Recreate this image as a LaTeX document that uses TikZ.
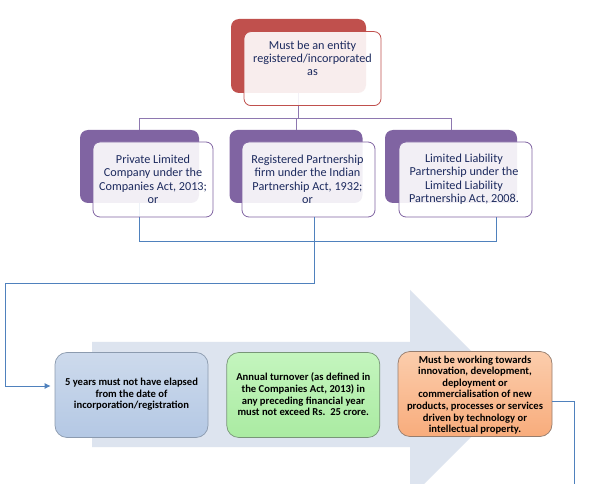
\documentclass[tikz,border=0pt]{standalone}
\usepackage{fontspec}
\setmainfont{Carlito}
\usetikzlibrary{arrows.meta}
\definecolor{redback}{HTML}{C0504D}
\definecolor{purpback}{HTML}{8064A2}
\definecolor{purpline}{HTML}{8E78B0}
\definecolor{blueline}{HTML}{4F81BD}
\definecolor{navytext}{HTML}{1C2A5E}
\definecolor{arrowfill}{HTML}{DDE4EF}
\tikzset{
  backbox/.style={rounded corners=8pt, minimum width=#1, inner sep=0pt},
  frontbox/.style={rounded corners=7pt, fill=white, fill opacity=0.9, line width=0.8pt, inner sep=0pt},
  toptext/.style={text=navytext, align=center, font=\fontsize{12.2}{13.3}\selectfont, inner sep=0pt},
  lowbox/.style={rounded corners=12pt, minimum width=153pt, minimum height=85pt, line width=0.7pt, inner sep=0pt},
  lowtext/.style={text=black, align=center, font=\bfseries\fontsize{10.6}{11.6}\selectfont, inner sep=0pt},
  purpconn/.style={draw=purpline, line width=0.8pt},
  blueconn/.style={draw=blueline, line width=0.8pt},
}
\begin{document}
\begin{tikzpicture}[x=1pt,y=-1pt]
\fill[white] (0,0) rectangle (590,484);
\useasboundingbox (0,0) rectangle (590,484);
% big background arrow
\begin{scope}
\clip (0,0) rectangle (590,484);
\fill[arrowfill] (92,342) -- (410,342) -- (410,290) -- (514,394) -- (410,498) -- (410,447) -- (92,447) -- cycle;
\end{scope}
% top entity
\node[backbox=135pt, minimum height=74pt, fill=redback] (topback) at (298.5,56) {};
% middle back boxes
\node[backbox=119pt, minimum height=73pt, fill=purpback] (b1back) at (139.5,166.5) {};
\node[backbox=133pt, minimum height=73pt, fill=purpback] (b2back) at (296,166.5) {};
\node[backbox=132pt, minimum height=73pt, fill=purpback] (b3back) at (451,166.5) {};
% connectors top -> middle
\coordinate (j1) at (298.5,118);
\draw[purpconn] (topback.south) -- (j1);
\draw[purpconn] (j1) -| (b1back.north);
\draw[purpconn] (j1) -| (b2back.north);
\draw[purpconn] (j1) -| (b3back.north);
% connectors below middle
\coordinate (c1) at (139.5,241.5);
\coordinate (c2) at (496,241.5);
\coordinate (c3) at (496,217);
\draw[blueconn] (b1back.south) -- (c1) -- (c2) -- (c3);
% front boxes
\node[frontbox, draw=redback, minimum width=137pt, minimum height=74pt] (topfront) at (312.5,68.6) {};
\node[toptext] (toptxt) at (312.5,58.5) {Must be an entity\\registered/incorporated\\as};
\node[frontbox, draw=purpback, minimum width=120pt, minimum height=75pt] (b1front) at (153,179.5) {};
\node[frontbox, draw=purpback, minimum width=133pt, minimum height=75pt] (b2front) at (308.5,179.5) {};
\node[frontbox, draw=purpback, minimum width=133pt, minimum height=75pt] (b3front) at (465.5,179.5) {};
\node[toptext] (b1txt) at (153,179.3) {Private Limited\\Company under the\\Companies Act, 2013;\\or};
\node[toptext] (b2txt) at (307.5,179.3) {Registered Partnership\\firm under the Indian\\Partnership Act, 1932;\\or};
\node[toptext] (b3txt) at (464,179.3) {Limited Liability\\Partnership under the\\Limited Liability\\Partnership Act, 2008.};
% bottom boxes
\node[lowbox, draw={rgb,255:red,140;green,155;blue,175}, top color={rgb,255:red,205;green,218;blue,236}, bottom color={rgb,255:red,180;green,200;blue,228}] (ba) at (131.5,395) {};
\node[lowbox, draw={rgb,255:red,120;green,150;blue,120}, top color={rgb,255:red,196;green,245;blue,190}, bottom color={rgb,255:red,170;green,235;blue,162}] (bb) at (303.3,395) {};
\node[lowbox, minimum width=154pt, draw={rgb,255:red,150;green,125;blue,110}, top color={rgb,255:red,251;green,205;blue,172}, bottom color={rgb,255:red,248;green,172;blue,124}] (bc) at (475,394) {};
\node[lowtext] (batxt) at (131.5,394.3) {5 years must not have elapsed\\from the date of\\incorporation/registration};
\node[lowtext] (bbtxt) at (303.3,394.5) {Annual turnover (as defined in\\the Companies Act, 2013) in\\any preceding financial year\\must not exceed Rs.\ \ 25 crore.};
\node[lowtext] (bctxt) at (475,395) {Must be working towards\\innovation, development,\\deployment or\\commercialisation of new\\products, processes or services\\driven by technology or\\intellectual property.};
% long connector to first bottom box
\coordinate (m1) at (314,217);
\coordinate (m2) at (314,283);
\coordinate (m3) at (5.3,283);
\coordinate (m4) at (5.3,386);
\coordinate (m5) at (ba.west |- m4);
\draw[blueconn, -{Latex[length=6pt,width=6pt]}, shorten >=4pt] (m1) -- (m2) -- (m3) -- (m4) -- (m5);
% connector leaving the orange box
\coordinate (r1) at (574,401.7);
\coordinate (r2) at (574,484);
\draw[blueconn] (bc.east |- r1) -- (r1) -- (r2);
\end{tikzpicture}
\end{document}
